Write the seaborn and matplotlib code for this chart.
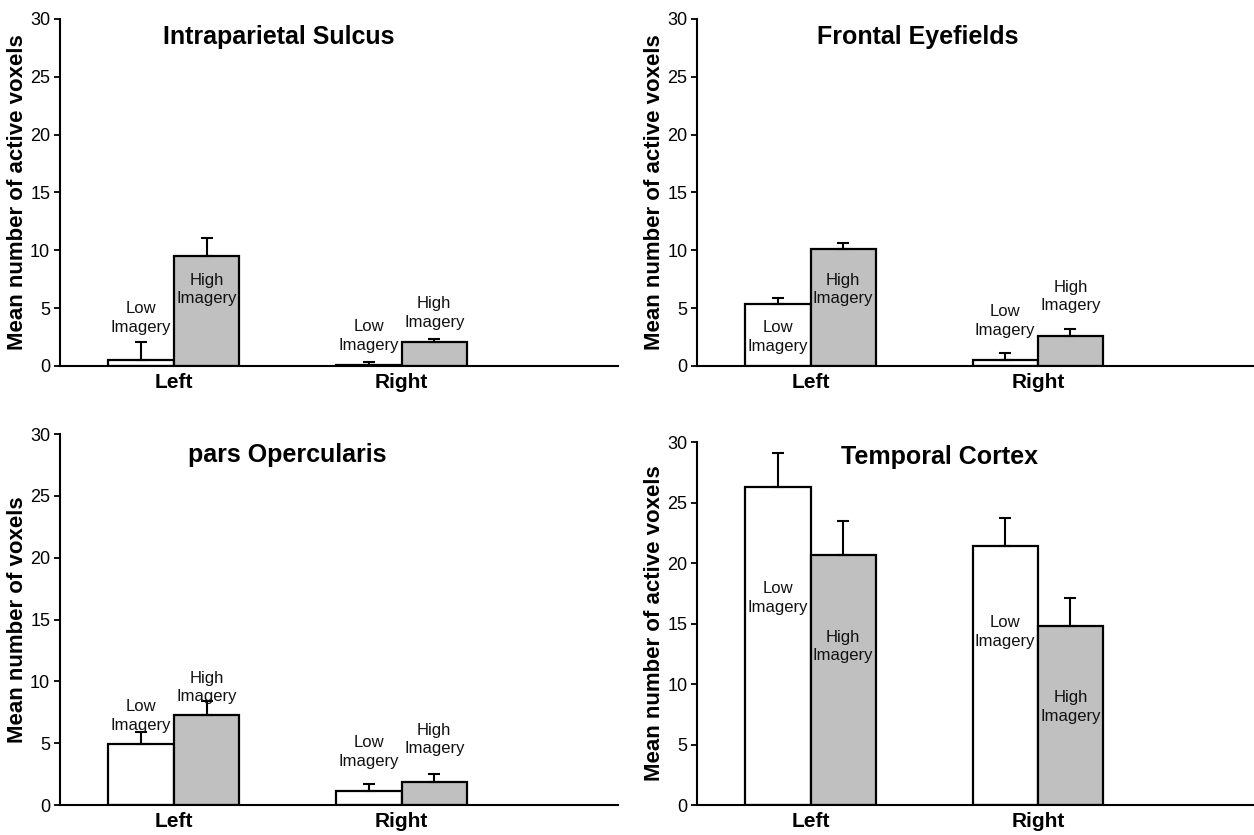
import pandas as pd
import numpy as np
import matplotlib
matplotlib.use("Agg")
import matplotlib.pyplot as plt
import seaborn as sns

sns.set_theme(style="ticks")
plt.rcParams["font.family"] = ["Liberation Sans", "DejaVu Sans"]
plt.rcParams.update({"text.color": "black", "axes.labelcolor": "black",
                     "xtick.color": "black", "ytick.color": "black"})

sides = ["Left", "Right"]
levels = ["Low", "High"]

"Values read off the figure: [Left, Right] per imagery level"
titles = ["Intraparietal Sulcus", "Frontal Eyefields", "pars Opercularis", "Temporal Cortex"]
ylabels = ["Mean number of active voxels", "Mean number of active voxels",
           "Mean number of voxels", "Mean number of active voxels"]
low_means = [[0.5, 0.1], [5.4, 0.5], [4.9, 1.1], [26.3, 21.4]]
high_means = [[9.5, 2.1], [10.1, 2.6], [7.3, 1.9], [20.7, 14.8]]
low_err = [[1.6, 0.25], [0.5, 0.6], [1.0, 0.6], [2.8, 2.3]]
high_err = [[1.6, 0.25], [0.5, 0.6], [1.1, 0.6], [2.8, 2.3]]

# where the "Low/High Imagery" labels sit (y in data units), [Left, Right]
low_label_y = [[4.15, 2.6], [2.5, 3.9], [7.2, 4.3], [17.1, 14.3]]
high_label_y = [[6.6, 4.6], [6.6, 6.0], [9.5, 5.3], [13.1, 8.1]]
title_x = [0.46, 0.47, 0.5, 0.565]
title_y = [28.4, 28.4, 28.3, 28.8]

fig = plt.figure(figsize=(12.54, 8.35), dpi=100)
axes_rects = [
    [0.0478, 0.5617, 0.445, 0.4156],
    [0.5558, 0.5617, 0.444, 0.4156],
    [0.0478, 0.0359, 0.445, 0.4443],
    [0.5558, 0.0359, 0.444, 0.4347],
]

for i, rect in enumerate(axes_rects):
    ax = fig.add_axes(rect)
    df = pd.DataFrame({
        "side": sides * 2,
        "imagery": [levels[0]] * 2 + [levels[1]] * 2,
        "value": low_means[i] + high_means[i],
    })
    sns.barplot(data=df, x="side", y="value", hue="imagery", hue_order=levels,
                palette=["white", "#c0c0c0"], edgecolor="black", linewidth=1.6,
                width=0.574, saturation=1, legend=False, ax=ax)

    errs = low_err[i] + high_err[i]
    lab_y = low_label_y[i] + high_label_y[i]
    lab_txt = ["Low\nImagery"] * 2 + ["High\nImagery"] * 2
    for p, e, ly, t in zip(ax.patches, errs, lab_y, lab_txt):
        xc = p.get_x() + p.get_width() / 2
        ax.errorbar(xc, p.get_height(), yerr=[[0], [e]], fmt="none",
                    ecolor="black", elinewidth=1.5, capsize=4.5, capthick=1.5)
        ax.text(xc, ly, t, ha="center", va="center", fontsize=12,
                linespacing=1.3, color="#111111")

    ax.text(title_x[i], title_y[i], titles[i], ha="center", va="center",
            fontsize=18, fontweight="bold")
    ax.set_ylim(0, 30)
    ax.set_xlim(-0.5, 1.95)
    ax.set_yticks([0, 5, 10, 15, 20, 25, 30])
    ax.set_xlabel("")
    ax.set_ylabel(ylabels[i], fontsize=16, fontweight="bold")
    ax.yaxis.set_label_coords(-0.058, 0.5)
    ax.tick_params(axis="y", labelsize=13, length=4, width=1.3, pad=3)
    ax.tick_params(axis="x", labelsize=15, length=0, pad=5)
    for lab in ax.get_xticklabels():
        lab.set_fontweight("bold")
    sns.despine(ax=ax)
    for s in ["left", "bottom"]:
        ax.spines[s].set_linewidth(1.5)
        ax.spines[s].set_color("black")
    ax.set_facecolor("white")

fig.savefig("out.png", dpi=100, facecolor="white")
